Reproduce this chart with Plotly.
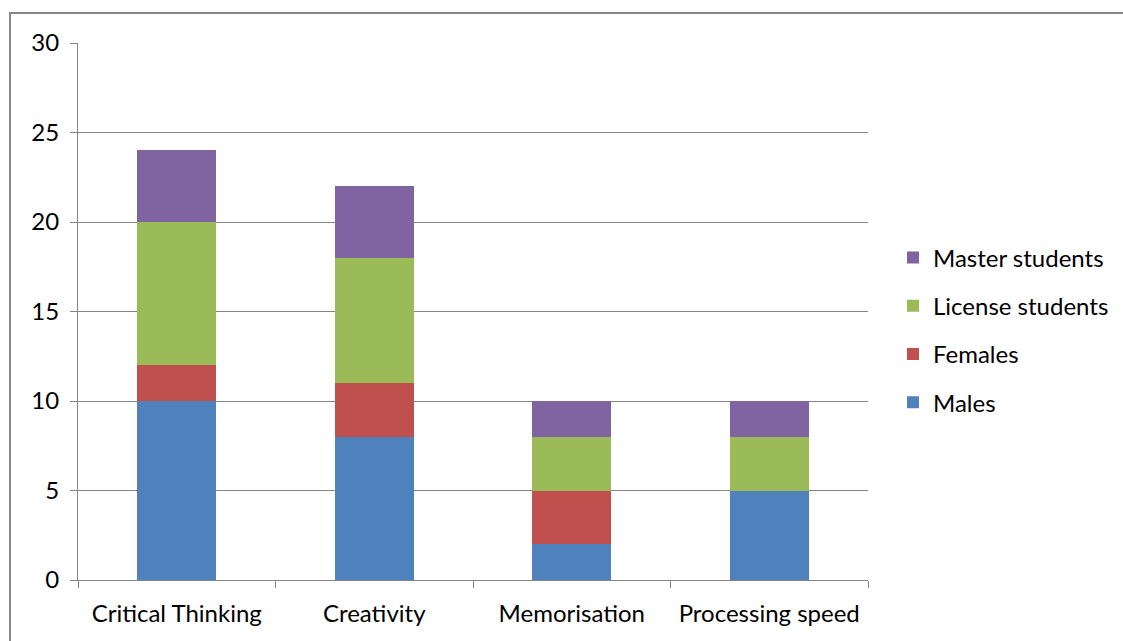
import plotly.graph_objects as go

categories = ["Critical Thinking", "Creativity", "Memorisation", "Processing speed"]
males = [10, 8, 2, 5]
females = [2, 3, 3, 0]
license_students = [8, 7, 3, 3]
master_students = [4, 4, 2, 2]

series = [
    ("Males", males, "#4F81BD", 4),
    ("Females", females, "#C0504D", 3),
    ("License students", license_students, "#9BBB59", 2),
    ("Master students", master_students, "#8064A2", 1),
]

FONT = "Lato"
FS = 24
fig = go.Figure()
for name, vals, color, rank in series:
    fig.add_trace(go.Bar(
        x=categories, y=vals, name=name, legendgroup=name, legendrank=rank,
        marker=dict(color=color, line=dict(width=0)),
        width=0.4,
    ))

L, R, T, B = 78, 255, 43, 61
W, H = 1123, 641
pw, ph = W - L - R, H - T - B

fig.update_layout(
    width=W, height=H,
    margin=dict(l=L, r=R, t=T, b=B, autoexpand=False),
    barmode="stack",
    plot_bgcolor="white", paper_bgcolor="white",
    font=dict(family=FONT, size=FS, color="black"),
    legend=dict(
        x=(893 - L) / pw, xanchor="left",
        y=(H - B - 330) / ph, yanchor="middle",
        traceorder="grouped",
        tracegroupgap=14,
        font=dict(family=FONT, size=FS),
        bgcolor="rgba(0,0,0,0)",
    ),
    showlegend=True,
)
fig.update_xaxes(
    showline=True, linecolor="#868686", linewidth=1,
    ticks="outside", tickson="boundaries", ticklen=7, tickcolor="#868686",
    showgrid=False,
    ticklabelstandoff=12,
    tickfont=dict(family=FONT, size=FS),
)
fig.update_yaxes(
    range=[0, 30], dtick=5, tick0=0,
    showline=True, linecolor="#868686", linewidth=1,
    ticks="outside", ticklen=7, tickcolor="#868686",
    showgrid=True, gridcolor="#868686", gridwidth=1,
    zeroline=False,
    ticklabelstandoff=6,
    tickfont=dict(family=FONT, size=FS),
)
fig.add_shape(
    type="rect", xref="paper", yref="paper",
    x0=(10 - L) / pw, x1=(1140 - L) / pw,
    y0=(H - B - 660) / ph, y1=(H - B - 13) / ph,
    line=dict(color="#868686", width=2), fillcolor="rgba(0,0,0,0)",
    layer="below",
)
fig.write_html("out.html")
